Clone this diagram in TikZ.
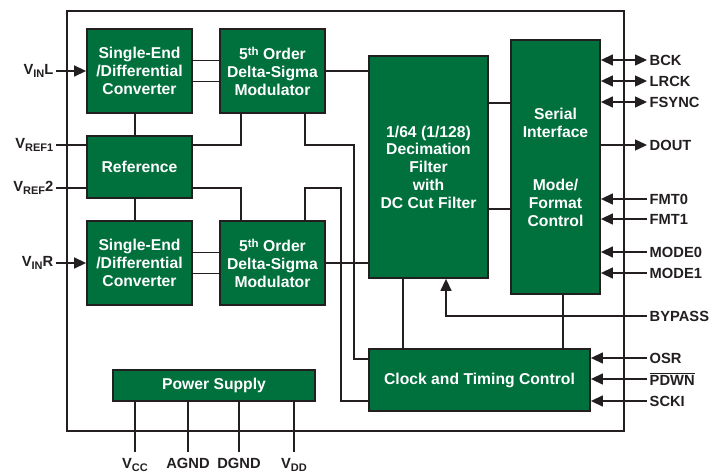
\documentclass[tikz,border=0pt]{standalone}
\usepackage{fontspec}
\setmainfont{Liberation Sans}
\usetikzlibrary{arrows.meta}
\definecolor{chipgreen}{HTML}{00703C}
\definecolor{wirex}{HTML}{231F20}
\newcommand{\pinsub}[1]{\raisebox{-0.35ex}{\fontsize{11}{12}\selectfont #1}}
\newcommand{\pinsup}[1]{\raisebox{0.55ex}{\fontsize{11.5}{12}\selectfont #1}}
\tikzset{
  blk/.style={draw=wirex,line width=1.8pt,fill=chipgreen,text=white,align=center,inner sep=0pt},
  wr/.style={wirex,line width=1.4pt},
  ar/.style={wr,-{Triangle[length=12pt,width=11pt]}},
  br/.style={wr,{Triangle[length=12pt,width=11pt]}-{Triangle[length=12pt,width=11pt]}},
  pin/.style={text=wirex,inner sep=2.5pt,font=\fontsize{14.7}{17}\selectfont\bfseries},
  frame/.style={wirex,line width=1.2pt}
}
\begin{document}
\begin{tikzpicture}[x=1pt,y=-1pt,font=\fontsize{15.7}{17.8}\selectfont\bfseries]
\useasboundingbox (0,0) rectangle (712,473);
\draw[frame] (67,11) rectangle (624,431);

% blocks
\node[blk,minimum width=105pt,minimum height=84pt] (convL) at (139.5,71) {Single-End\\/Differential\\Converter};
\node[blk,minimum width=105pt,minimum height=84pt] (modL) at (272.5,71) {5\pinsup{th} Order\\Delta-Sigma\\Modulator};
\node[blk,minimum width=105pt,minimum height=62pt] (refb) at (139.5,167) {Reference};
\node[blk,minimum width=105pt,minimum height=84pt] (convR) at (139.5,263) {Single-End\\/Differential\\Converter};
\node[blk,minimum width=105pt,minimum height=84pt] (modR) at (272.5,263) {5\pinsup{th} Order\\Delta-Sigma\\Modulator};
\node[blk,minimum width=202pt,minimum height=31pt] (power) at (214,385.5) {Power Supply};
\node[blk,minimum width=119pt,minimum height=222pt] (decim) at (428.5,167) {1/64 (1/128)\\Decimation\\Filter\\with\\DC Cut Filter};
\node[blk,minimum width=89pt,minimum height=254pt] (serial) at (555.5,167) {Serial\\Interface\\[35.6pt]Mode/\\Format\\Control};
\node[blk,minimum width=221pt,minimum height=62pt] (clock) at (479.5,380) {Clock and Timing Control};

% pins, left
\node[pin,anchor=east] (vinl) at (56,71) {V\pinsub{IN}L};
\node[pin,anchor=east] (vref1) at (56,145) {V\pinsub{REF1}};
\node[pin,anchor=east] (vref2) at (56,188) {V\pinsub{REF}2};
\node[pin,anchor=east] (vinr) at (56,263) {V\pinsub{IN}R};

% pins, right
\node[pin,anchor=west] (bck) at (647,60) {BCK};
\node[pin,anchor=west] (lrck) at (647,81) {LRCK};
\node[pin,anchor=west] (fsync) at (647,102) {FSYNC};
\node[pin,anchor=west] (dout) at (647,145) {DOUT};
\node[pin,anchor=west] (fmt0) at (647,199) {FMT0};
\node[pin,anchor=west] (fmt1) at (647,219) {FMT1};
\node[pin,anchor=west] (mode0) at (647,252) {MODE0};
\node[pin,anchor=west] (mode1) at (647,273) {MODE1};
\node[pin,anchor=west] (bypass) at (647,316) {BYPASS};
\node[pin,anchor=west] (osr) at (647,358) {OSR};
\node[pin,anchor=west] (pdwn) at (647,379) {$\overline{\mbox{PDWN}}$};
\node[pin,anchor=west] (scki) at (647,401) {SCKI};

% pins, bottom
\coordinate (pvcc) at (135,452);
\coordinate (pagnd) at (188,452);
\coordinate (pdgnd) at (239,452);
\coordinate (pvdd) at (294,452);
\node[pin,anchor=north] (vcc) at (135,456) {V\pinsub{CC}};
\node[pin,anchor=north] (agnd) at (188,456) {AGND};
\node[pin,anchor=north] (dgnd) at (239,456) {DGND};
\node[pin,anchor=north] (vdd) at (294,456) {V\pinsub{DD}};

% inputs
\draw[ar] (vinl.east) -- (convL.west);
\draw[ar] (vinr.east) -- (convR.west);
\draw[wr] (vref1.east) -- (vref1.east -| refb.west);
\draw[wr] (vref2.east) -- (vref2.east -| refb.west);

% channel paths
\draw[wr] ([yshift=10.5pt]convL.east) -- ([yshift=10.5pt]modL.west);
\draw[wr] ([yshift=-10.5pt]convL.east) -- ([yshift=-10.5pt]modL.west);
\draw[wr] ([yshift=10.5pt]convR.east) -- ([yshift=10.5pt]modR.west);
\draw[wr] ([yshift=-10.5pt]convR.east) -- ([yshift=-10.5pt]modR.west);
\draw[wr] (modL.east) -- (modL.east -| decim.west);
\draw[wr] (modR.east) -- (modR.east -| decim.west);
\draw[wr] ([xshift=-4.5pt]convL.south) -- ([xshift=-4.5pt]refb.north);
\draw[wr] ([xshift=-4.5pt]refb.south) -- ([xshift=-4.5pt]convR.north);
\draw[wr] ([yshift=22pt]refb.east) -| ([xshift=-31.5pt]modL.south);
\draw[wr] ([yshift=-21pt]refb.east) -| ([xshift=-31.5pt]modR.north);
\draw[wr] ([xshift=32.5pt]modL.south) |- (354,145) |- ([yshift=21pt]clock.west);
\draw[wr] ([xshift=32.5pt]modR.north) |- (341,188) |- ([yshift=-21pt]clock.west);

% filter, interface, clock
\draw[wr] ([yshift=64pt]decim.east) -- ([yshift=64pt]decim.east -| serial.west);
\draw[wr] ([yshift=-42pt]decim.east) -- ([yshift=-42pt]decim.east -| serial.west);
\draw[wr] ([xshift=-25.5pt]decim.south) -- ([xshift=-25.5pt]decim.south |- clock.north);
\draw[wr] ([xshift=7.5pt]serial.south) -- ([xshift=7.5pt]serial.south |- clock.north);

% outputs and controls
\draw[br] (serial.east |- bck.west) -- (bck.west);
\draw[br] (serial.east |- lrck.west) -- (lrck.west);
\draw[br] (serial.east |- fsync.west) -- (fsync.west);
\draw[ar] (serial.east |- dout.west) -- (dout.west);
\draw[ar] (fmt0.west) -- (fmt0.west -| serial.east);
\draw[ar] (fmt1.west) -- (fmt1.west -| serial.east);
\draw[ar] (mode0.west) -- (mode0.west -| serial.east);
\draw[ar] (mode1.west) -- (mode1.west -| serial.east);
\draw[ar] (bypass.west) -| ([xshift=17.5pt]decim.south);
\draw[ar] (osr.west) -- (osr.west -| clock.east);
\draw[ar] (pdwn.west) -- (pdwn.west -| clock.east);
\draw[ar] (scki.west) -- (scki.west -| clock.east);

% supply pins
\draw[wr] (power.south -| pvcc) -- (pvcc);
\draw[wr] (power.south -| pagnd) -- (pagnd);
\draw[wr] (power.south -| pdgnd) -- (pdgnd);
\draw[wr] (power.south -| pvdd) -- (pvdd);
\end{tikzpicture}
\end{document}
